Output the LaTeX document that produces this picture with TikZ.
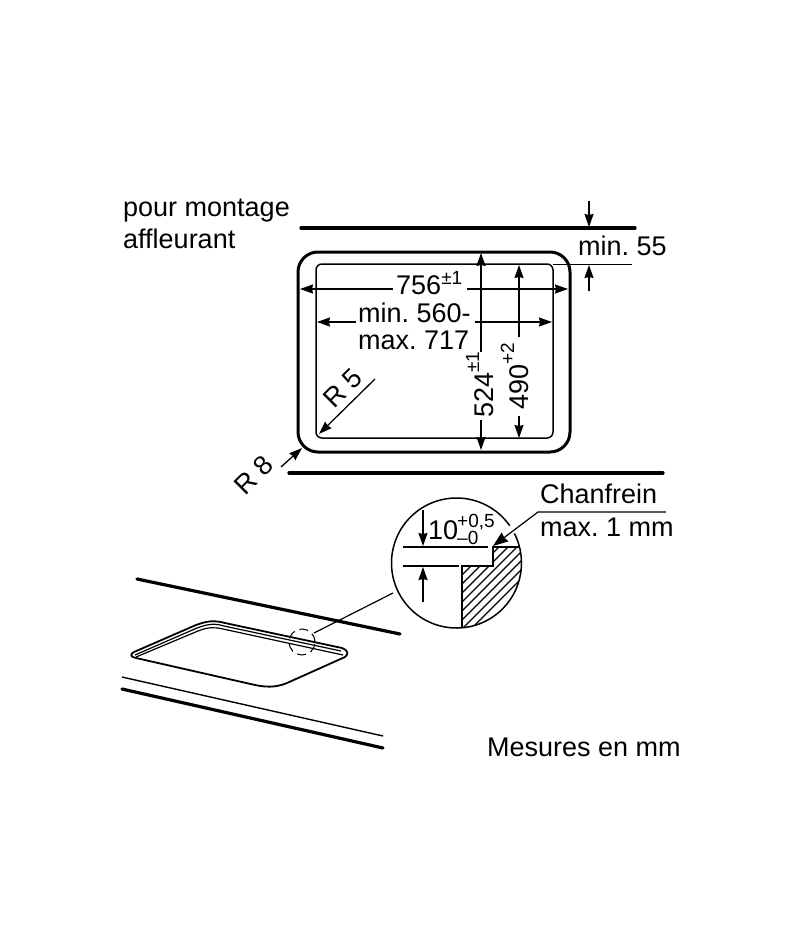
\documentclass[tikz,border=0pt]{standalone}
\usepackage{fontspec}
\setmainfont{Liberation Sans}
\usetikzlibrary{arrows.meta}
\frenchspacing
\newcommand{\lblsize}{\fontsize{27}{30}\selectfont}
\newcommand{\smlsize}{\fontsize{19}{19}\selectfont}
\tikzset{
  lbl/.style={inner sep=0pt,anchor=base west,font=\lblsize,text=black},
  heavyline/.style={line width=3.2pt,line cap=round},
  thinline/.style={line width=1.5pt},
  dimarrow/.style={line width=1.3pt,-{Stealth[length=13pt,width=9pt,inset=1pt]}},
}
\begin{document}
\begin{tikzpicture}[x=1pt,y=-1pt]
\useasboundingbox[fill=white] (0,0) rectangle (800,950);

% top view
\node[lbl] (t1) at (123,216) {pour montage};
\node[lbl] (t2) at (123,248) {affleurant};
\coordinate (wallAL) at (301,228); \coordinate (wallAR) at (635,228);
\coordinate (wallBL) at (289,473); \coordinate (wallBR) at (663,473);
\draw[heavyline] (wallAL) -- (wallAR);
\draw[heavyline] (wallBL) -- (wallBR);
\draw[line width=3pt,rounded corners=20pt] (298,252) rectangle (570,452);
\draw[thinline,rounded corners=6pt] (316,264) rectangle (553,438);

% min. 55
\node[lbl] (m55) at (578,255) {min. 55};
\coordinate (a1s) at (589,201); \coordinate (a1e) at (589,227);
\coordinate (a2s) at (589,291); \coordinate (a2e) at (589,265);
\coordinate (e1) at (553,264); \coordinate (e2) at (632,264);
\draw[dimarrow] (a1s) -- (a1e);
\draw[dimarrow] (a2s) -- (a2e);
\draw[line width=1pt] (e1) -- (e2);

% 756
\node[lbl] (d756) at (396,294) {756\raisebox{10pt}{\smlsize ±1}};
\draw[dimarrow] (393,289) -- (300,289);
\draw[dimarrow] (467,289) -- (568,289);

% 560-717
\node[lbl] (d560) at (358,322) {min. 560-};
\node[lbl] (d717) at (358,349) {max. 717};
\draw[dimarrow] (356,322) -- (317,322);
\draw[dimarrow] (475,322) -- (552,322);

% 524
\node[lbl,rotate=90] (d524) at (493,418) {524\raisebox{14pt}{\smlsize ±1}};
\draw[dimarrow] (481,352) -- (481,253);
\draw[dimarrow] (481,420) -- (481,450);

% 490
\node[lbl,rotate=90] (d490) at (528,410) {490\raisebox{14pt}{\smlsize +2}};
\draw[dimarrow] (519,337) -- (519,265);
\draw[dimarrow] (519,416) -- (519,438);

% radii
\node[inner sep=0pt,rotate=45,font=\lblsize] (r5) at (343,388) {R 5};
\draw[dimarrow] (375,379) -- (319,434);
\node[inner sep=0pt,rotate=45,font=\lblsize] (r8) at (254,475) {R 8};
\draw[dimarrow] (281,467) -- (302,448);

% detail
\coordinate (c) at (456.5,563);
\begin{scope}
  \clip (c) circle[radius=65pt];
  \clip (462,630) -- (462,566) -- (493,566) -- (493,547) -- (525,547) -- (525,630) -- cycle;
  \foreach \k in {1019,1028,...,1100}
    \draw[line width=1.2pt] (455,\k-455) -- (530,\k-530);
\end{scope}
\draw[thinline] (c) ++(35:65pt) arc[start angle=35,end angle=387,radius=65pt];
\draw[thinline] (462,628) -- (462,566) -- (493,566) -- (493,547) -- (520,547);
\draw[line width=1.2pt] (403,547) -- (488,547);
\draw[line width=1.2pt] (403,566) -- (459,566);
\draw[dimarrow] (423,510) -- (423,546);
\draw[dimarrow] (423,602) -- (423,567);
\node[lbl] (d10) at (428,539) {10};
\node[inner sep=0pt,anchor=base west,font=\smlsize] (dp) at (457,527) {+0,5};
\node[inner sep=0pt,anchor=base west,font=\smlsize] (dm) at (457,544) {–0};

\node[lbl] (ch) at (540,503) {Chanfrein};
\node[lbl] (mx) at (540,536) {max. 1 mm};
\coordinate (l1) at (666,512); \coordinate (l2) at (538,512); \coordinate (l3) at (493,546);
\draw[line width=1.2pt,-{Stealth[length=15pt,width=11pt,inset=1pt]}] (l1) -- (l2) -- (l3);

% perspective
\draw[heavyline] (137,579) -- (400,634);
\draw[line width=1.4pt] (122,677) -- (383,736);
\draw[heavyline] (122,689) -- (383,748);

\draw[line width=1.8pt,line join=round]
  (134,652) -- (196,625) .. controls (207,621) and (214,620) .. (225,623)
  -- (342,648) .. controls (348,650) and (349,654) .. (345,657)
  -- (287,683) .. controls (275,688) and (265,687) .. (255,685)
  -- (136,658) .. controls (130,657) and (130,654) .. (134,652) -- cycle;
\draw[line width=1.2pt] (135,655) -- (197,628) .. controls (208,624) and (214,623) .. (224,626) -- (341,651);
\draw[line width=1.2pt] (136,657) -- (198,631) .. controls (208,627) and (214,627) .. (223,629) -- (343,655);

\draw[line width=1pt,dash pattern=on 9pt off 5pt] (302,642) circle[radius=13pt];
\coordinate (z1) at (314,633); \coordinate (z2) at (393,593);
\draw[line width=1.2pt] (z1) -- (z2);

\node[lbl] (mes) at (487,756) {Mesures en mm};
\end{tikzpicture}
\end{document}
